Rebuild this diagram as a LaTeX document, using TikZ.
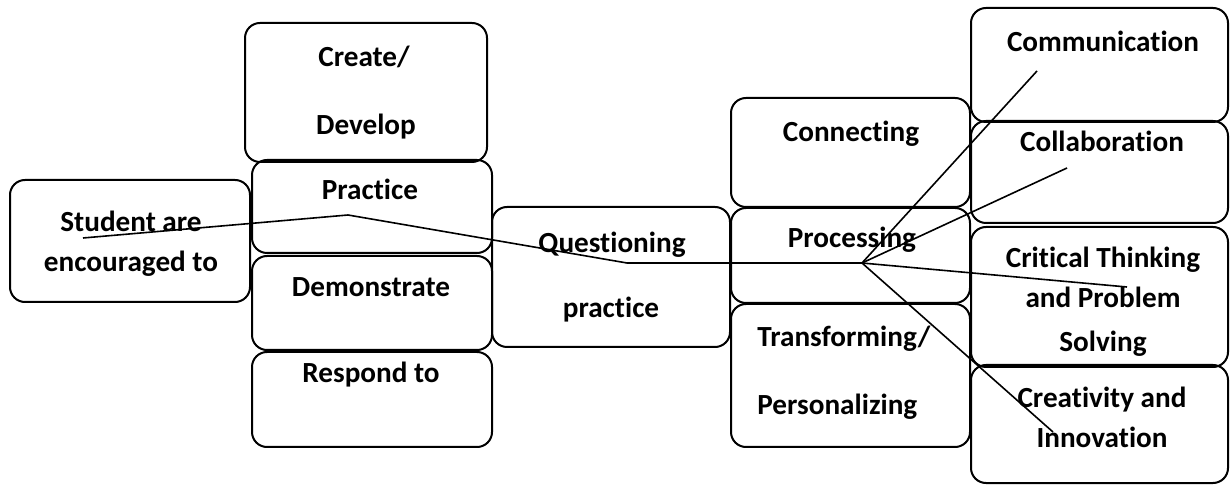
\documentclass[tikz,border=0pt]{standalone}
\usepackage{fontspec}
\setmainfont[Ligatures=NoCommon]{Carlito}
\usetikzlibrary{fit}
\begin{document}
\begin{tikzpicture}[x=0.5pt,y=-0.5pt,
  box/.style={draw, line width=1pt, rounded corners=7.5pt, inner sep=0pt},
  txt/.style={anchor=base, inner sep=0pt, font=\fontsize{14.6}{17}\selectfont\bfseries},
  link/.style={line width=0.8pt}]
\useasboundingbox (0,0) rectangle (1230,485);
\fill[white] (0,0) rectangle (1230,485);
% boxes
\node[box, fit={(10,180) (250,302)}] (stud) {};
\node[box, fit={(245,23) (487,162)}] (create) {};
\node[box, fit={(252,160) (492,253)}] (prac) {};
\node[box, fit={(252,256) (492,350)}] (demo) {};
\node[box, fit={(252,352) (492,447)}] (resp) {};
\node[box, fit={(492,207) (730,347)}] (quest) {};
\node[box, fit={(731,98) (970,207)}] (conn) {};
\node[box, fit={(731,208) (970,303)}] (proc) {};
\node[box, fit={(731,304) (970,447)}] (trans) {};
\node[box, fit={(971,8) (1228,122)}] (comm) {};
\node[box, fit={(971,121) (1228,223)}] (coll) {};
\node[box, fit={(971,227) (1228,367)}] (crit) {};
\node[box, fit={(971,365) (1228,483)}] (crea) {};
% texts
\node[txt] (t1a) at (131,232) {Student are};
\node[txt] (t1b) at (131,272) {encouraged to};
\node[txt] (t2a) at (364,67) {Create/};
\node[txt] (t2b) at (366,135) {Develop};
\node[txt] (t3) at (370,200) {Practice};
\node[txt] (t4) at (371,297) {Demonstrate};
\node[txt] (t5) at (371,383) {Respond to};
\node[txt] (t6a) at (612,253) {Questioning};
\node[txt] (t6b) at (611,318) {practice};
\node[txt] (t7) at (851,142) {Connecting};
\node[txt] (t8) at (852,248) {Processing};
\node[txt, anchor=base west] (t9a) at (757,347) {Transforming/};
\node[txt, anchor=base west] (t9b) at (757,415) {Personalizing};
\node[txt] (t10) at (1103,52) {Communication};
\node[txt] (t11) at (1102,152) {Collaboration};
\node[txt] (t12a) at (1103,268) {Critical Thinking};
\node[txt] (t12b) at (1103,308) {and Problem};
\node[txt] (t12c) at (1103,352) {Solving};
\node[txt] (t13a) at (1102,408) {Creativity and};
\node[txt] (t13b) at (1102,448) {Innovation};
% connector points
\coordinate (s0) at (83,238);
\coordinate (p1) at (348,215);
\coordinate (p2) at (627,263);
\coordinate (hub) at (862,263);
\coordinate (e1) at (1037,71);
\coordinate (e2) at (1067,168);
\coordinate (e3) at (1127,287);
\coordinate (e4) at (1053,432);
\draw[link] (s0) -- (p1) -- (p2) -- (hub);
\draw[link] (hub) -- (e1);
\draw[link] (hub) -- (e2);
\draw[link] (hub) -- (e3);
\draw[link] (hub) -- (e4);
\end{tikzpicture}
\end{document}
